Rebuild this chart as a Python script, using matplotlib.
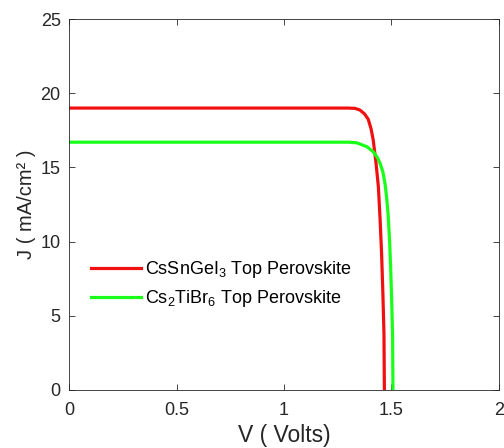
import matplotlib
matplotlib.use('Agg')
import matplotlib.pyplot as plt

plt.rcParams['font.family'] = ['Liberation Sans', 'DejaVu Sans']
plt.rcParams['mathtext.fontset'] = 'custom'
plt.rcParams['mathtext.rm'] = 'Liberation Sans'
plt.rcParams['mathtext.it'] = 'Liberation Sans'

# J-V curves
v_red = [0, 1.30, 1.33, 1.353, 1.375, 1.392, 1.405, 1.415, 1.428, 1.439, 1.447, 1.454, 1.460, 1.465, 1.467]
j_red = [19.0, 19.0, 18.98, 18.87, 18.6, 18.24, 17.6, 16.85, 15.3, 13.7, 11.5, 9.2, 6.5, 3.8, 0]

v_green = [0, 1.30, 1.338, 1.385, 1.415, 1.435, 1.447, 1.460, 1.470, 1.478, 1.485, 1.491, 1.496, 1.501, 1.505, 1.507]
j_green = [16.7, 16.7, 16.66, 16.4, 16.06, 15.65, 15.27, 14.7, 13.9, 12.9, 11.7, 10.1, 8.3, 6.0, 3.8, 0]

labels = [r'CsSnGeI$_3$ Top Perovskite', r'Cs$_2$TiBr$_6$ Top Perovskite']
xticks = [0, 0.5, 1, 1.5, 2]
yticks = [0, 5, 10, 15, 20, 25]

fig = plt.figure(figsize=(5.04, 4.48), dpi=100)
ax = fig.add_axes([0.137, 0.1295, 0.853, 0.828])

ax.plot(v_red, j_red, color='#f01010', lw=2.3, label=labels[0])
ax.plot(v_green, j_green, color='#1aff1a', lw=2.3, label=labels[1])

ax.set_xlim(0, 2)
ax.set_ylim(0, 25)
ax.set_xticks(xticks)
ax.set_xticklabels(['0', '0.5', '1', '1.5', '2'])
ax.set_yticks(yticks)

ax.tick_params(direction='in', top=True, right=True, length=4, width=0.6,
               labelsize=13, colors='#262626', pad=6)
ax.tick_params(axis='x', pad=9)
for s in ax.spines.values():
    s.set_color('#262626')
    s.set_linewidth(0.6)

ax.set_xlabel('V ( Volts)', fontsize=16.5, color='#262626', labelpad=3)
ax.set_ylabel('J ( mA/cm\u00b2 )', fontsize=14.5, color='#262626', labelpad=3)

ax.legend(loc='center left', bbox_to_anchor=(0.05, 0.286), frameon=False,
          fontsize=13, borderpad=0, borderaxespad=0, handlelength=2.8,
          handletextpad=0.2, labelspacing=0.45)

fig.savefig('out.png', dpi=100)
